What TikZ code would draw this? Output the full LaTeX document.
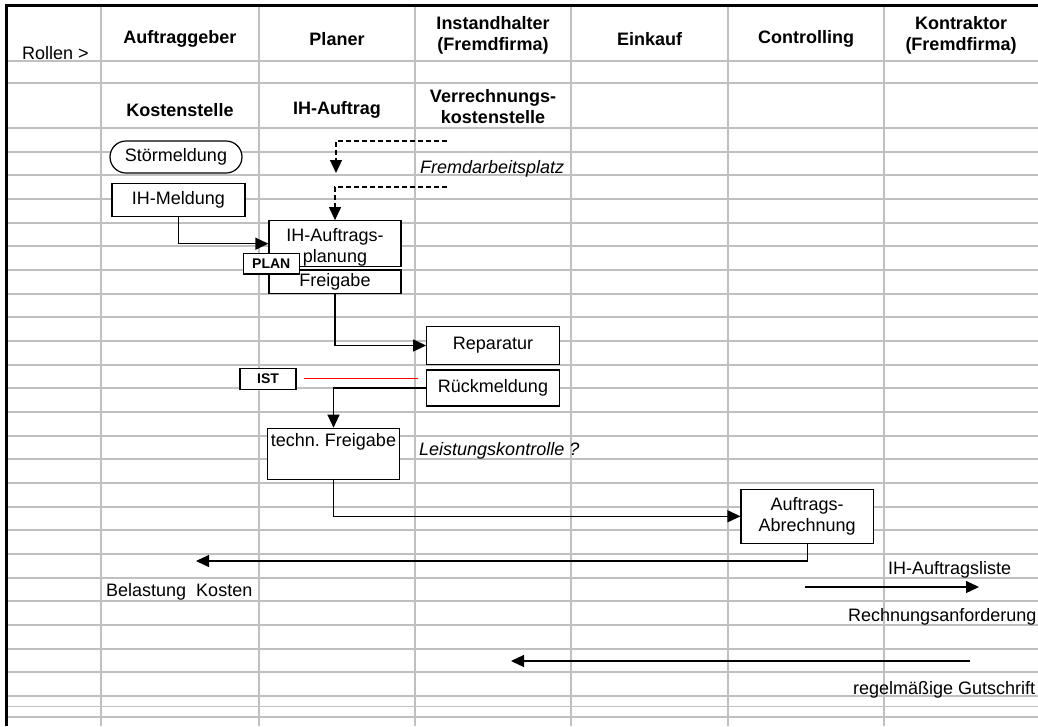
\documentclass[tikz,border=0pt]{standalone}
\usepackage{fontspec}
\setmainfont{Liberation Sans}
\usetikzlibrary{arrows.meta, positioning}

\definecolor{cellgray}{RGB}{192,192,192}
\frenchspacing

\begin{document}
\begin{tikzpicture}[x=1pt, y=-1pt, >={Triangle[length=13pt, width=12pt]},
		font=\fontsize{18}{21}\selectfont]
	\tikzstyle{cellline} = [draw=cellgray, line width=1.8pt]
	\tikzstyle{frameline} = [draw=black, line width=3pt]
	\tikzstyle{procbox} = [draw, fill=white, line width=1.2pt, inner sep=0pt, align=center]
	\tikzstyle{tag} = [draw, fill=white, line width=1.2pt, inner sep=0pt,
		font=\fontsize{14}{16}\selectfont\bfseries]
	\tikzstyle{head} = [align=center, inner sep=0pt, font=\fontsize{18}{21}\selectfont\bfseries]
	\tikzstyle{note} = [anchor=west, inner sep=0pt, text height=12.9pt, text depth=3.8pt]
	\tikzstyle{flow} = [->, line width=1.2pt]

	\useasboundingbox (0,0) rectangle (1038,726);

	% spreadsheet grid
	\foreach \x in {101,259,415,571,728,884}
		\draw[cellline] (\x,5) -- (\x,726);
	\foreach \y in {61,83,706.5,717}
		\draw[cellline] (6,\y) -- (1038,\y);
	\foreach \k in {0,...,24}
		\draw[cellline] (6,128+23.667*\k) -- (1038,128+23.667*\k);
	\draw[frameline] (6,726) -- (6,5) -- (1038,5);

	% roles
	\node[anchor=base west, inner sep=0pt] (rollen) at (22,59) {Rollen >};
	\node[head] (auftraggeber) at (180,39) {Auftraggeber};
	\node[head] (planer) at (337,39) {Planer};
	\node[head] (instand) at (493,35) {Instandhalter\\(Fremdfirma)};
	\node[head] (einkauf) at (649.5,39) {Einkauf};
	\node[head] (controlling) at (806,39) {Controlling};
	\node[head] (kontraktor) at (961,35) {Kontraktor\\(Fremdfirma)};

	\node[head] (kostenstelle) at (180,110) {Kostenstelle};
	\node[head] (ihauftrag) at (337,110) {IH-Auftrag};
	\node[head] (verrechnung) at (493,107) {Verrechnungs-\\kostenstelle};

	% process
	\node[procbox, rounded corners=16pt, minimum width=132pt, minimum height=32pt]
		(stoer) at (176,157) {Störmeldung};
	\node[procbox, minimum width=133pt, minimum height=33pt] (meldung) at (178.5,199.7) {IH-Meldung};
	\node[procbox, minimum width=132pt, minimum height=46pt] (planung) at (335,243.7)
		{\rule{0pt}{21pt}IH-Auftrags-\\planung};
	\node[procbox, minimum width=132pt, minimum height=23.3pt] (freigabe) at (335,281.7) {Freigabe};
	\node[tag, minimum width=56pt, minimum height=20.7pt] (plan) at (271.3,263.7) {PLAN};
	\node[procbox, minimum width=132.6pt, minimum height=37.6pt] (reparatur) at (493,345.5) {Reparatur};
	\node[procbox, minimum width=132.6pt, minimum height=36pt] (rueck) at (493,388) {Rückmeldung};
	\node[tag, minimum width=56pt, minimum height=21pt] (ist) at (268,378.8) {IST};
	\node[procbox, minimum width=131.6pt, minimum height=51pt] (technfg) at (333.5,453.8)
		{techn. Freigabe\\ \strut};
	\node[procbox, minimum width=132.3pt, minimum height=54pt] (abrechnung) at (807.2,516.3)
		{Auftrags-\\Abrechnung};

	% remarks
	\node[note] (fremdarbeit) at (420,169) {\itshape Fremdarbeitsplatz};
	\node[note] (leistung) at (419,451) {\itshape Leistungskontrolle ?};
	\node[note] (belastung) at (106,592) {Belastung\ \ Kosten};
	\node[note] (auftragsliste) at (888,570) {IH-Auftragsliste};
	\node[note] (rechnung) at (848,617) {Rechnungsanforderung};
	\node[note] (gutschrift) at (853,690) {regelmäßige Gutschrift};

	\coordinate (fremd1) at (447,141);
	\coordinate (fremd1end) at (336,173);
	\coordinate (fremd2) at (447,187);
	\coordinate (istend) at (418,378.8);
	\coordinate (belastend) at (196,561);
	\coordinate (listestart) at (805,587);
	\coordinate (listeend) at (979,587);
	\coordinate (gutstart) at (970,661);
	\coordinate (gutend) at (511,661);

	% connectors
	\draw[flow, dash pattern=on 5pt off 3pt] (fremd1) -| (fremd1end);
	\draw[flow, dash pattern=on 5pt off 3pt] (fremd2) -| (planung.north);
	\draw[flow] (meldung.south) |- (planung.west);
	\draw[flow] (freigabe.south) |- (reparatur.west);
	\draw[red, line width=1.2pt] ([xshift=7pt]ist.east) -- (istend);
	\draw[flow] (rueck.west) -| (technfg.north);
	\draw[flow] (technfg.south) |- (abrechnung.west);
	\draw[flow] (abrechnung.south) |- (belastend);
	\draw[flow] (listestart) -- (listeend);
	\draw[flow] (gutstart) -- (gutend);
\end{tikzpicture}
\end{document}
